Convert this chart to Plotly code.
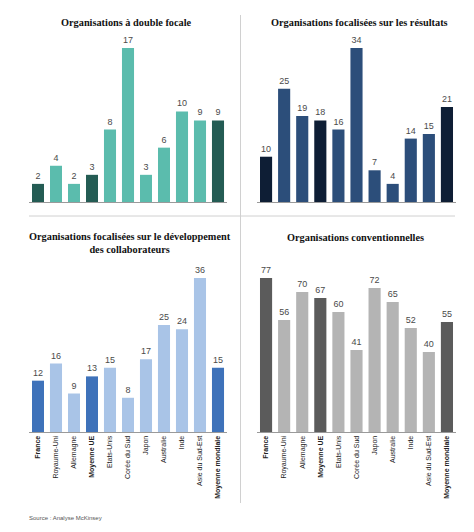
import plotly.graph_objects as go

W, H = 474, 532
OFF = 8  # default page body margin
FW, FH = W - 2 * OFF, H - 2 * OFF

categories = ["France", "Royaume-Uni", "Allemagne", "Moyenne UE", "Etats-Unis",
              "Corée du Sud", "Japon", "Australie", "Inde", "Asie du Sud-Est",
              "Moyenne mondiale"]
highlighted = ["France", "Moyenne UE", "Moyenne mondiale"]

double_focale = [2, 4, 2, 3, 8, 17, 3, 6, 10, 9, 9]
resultats = [10, 25, 19, 18, 16, 34, 7, 4, 14, 15, 21]
developpement = [12, 16, 9, 13, 15, 8, 17, 25, 24, 36, 15]
conventionnelles = [77, 56, 70, 67, 60, 41, 72, 65, 52, 40, 55]

titles = ["Organisations à double focale",
          "Organisations focalisées sur les résultats",
          "Organisations focalisées sur le développement<br>des collaborateurs",
          "Organisations conventionnelles"]
source_text = "Source : Analyse McKinsey"

palettes = [("#5bbcad", "#245c54"),
            ("#2c4e7a", "#0e1e35"),
            ("#a9c4e7", "#3e72ba"),
            ("#b4b4b4", "#5b5b5b")]

series = [double_focale, resultats, developpement, conventionnelles]

def px(x):
    return (x - OFF) / FW

def py(y):
    return 1 - (y - OFF) / FH

x_domains = [(29, 227), (257, 456), (29, 227), (257, 456)]
y_domains = [(202, 48), (202, 48), (432, 278), (432, 278)]

tick_text = [f"<b>{c}</b>" if c in highlighted else c for c in categories]

fig = go.Figure()
for i, (vals, (light, dark)) in enumerate(zip(series, palettes)):
    n = "" if i == 0 else str(i + 1)
    colors = [dark if c in highlighted else light for c in categories]
    fig.add_trace(go.Bar(
        x=categories, y=vals, marker=dict(color=colors, line=dict(width=0)),
        text=[str(v) for v in vals], textposition="outside",
        textfont=dict(family="Liberation Sans", size=9, color="#4a4a4a"),
        cliponaxis=False, xaxis="x" + n, yaxis="y" + n, showlegend=False,
        hoverinfo="skip"))
    show_ticks = i >= 2
    fig.update_layout(**{
        "xaxis" + n: dict(domain=[px(x_domains[i][0]), px(x_domains[i][1])],
                          anchor="y" + n, showline=True, linecolor="#9a9a9a",
                          linewidth=1, ticks="", showgrid=False,
                          showticklabels=show_ticks, tickangle=-90,
                          tickmode="array", tickvals=categories,
                          ticktext=tick_text,
                          tickfont=dict(family="Liberation Sans", size=7,
                                        color="#222222")),
        "yaxis" + n: dict(domain=[py(y_domains[i][0]), py(y_domains[i][1])],
                          anchor="x" + n, range=[0, max(vals)],
                          visible=False, showgrid=False, zeroline=False),
    })

title_pos = [(126, 22), (359, 22), (130, 243), (355, 237)]
annotations = []
for t, (x, y) in zip(titles, title_pos):
    annotations.append(dict(text=f"<b>{t}</b>", x=px(x), y=py(y), xref="paper",
                            yref="paper", xanchor="center", yanchor="middle",
                            showarrow=False,
                            font=dict(family="Liberation Serif, DejaVu Serif, serif",
                                      size=10.3, color="#111111")))
annotations.append(dict(text=source_text, x=px(27), y=py(518), xref="paper",
                        yref="paper", xanchor="left", yanchor="middle",
                        showarrow=False,
                        font=dict(family="Liberation Sans", size=6,
                                  color="#555555")))

shapes = [
    dict(type="line", xref="paper", yref="paper", x0=px(240.5), x1=px(240.5),
         y0=py(15), y1=py(503), line=dict(color="#d0d0d0", width=1)),
    dict(type="line", xref="paper", yref="paper", x0=px(29), x1=px(455),
         y0=py(216), y1=py(216), line=dict(color="#d0d0d0", width=1)),
]

fig.update_layout(width=FW, height=FH, margin=dict(l=0, r=0, t=0, b=0),
                  paper_bgcolor="white", plot_bgcolor="white",
                  bargap=0.33, annotations=annotations, shapes=shapes)

fig.write_html("out.html")
